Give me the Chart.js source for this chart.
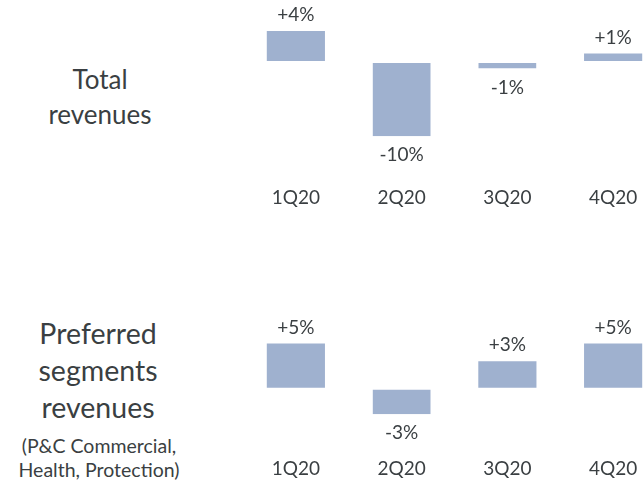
<!DOCTYPE html>
<html>
<head>
<meta charset="utf-8">
<script src="https://cdn.jsdelivr.net/npm/chart.js@4.4.1/dist/chart.umd.min.js"></script>
<style>
  html, body { margin: 0; padding: 0; background: #fff; overflow: hidden; }
  body { width: 644px; height: 486px; position: relative; font-family: Lato, sans-serif; color: #3a3f42; }
  .box { position: absolute; }
  .title { position: absolute; text-align: center; line-height: 1.35; }
</style>
</head>
<body>

<div class="title" style="left:0; width:200px; top:62px; font-size:26px; line-height:35px;">Total<br>revenues</div>

<div class="title" style="left:0; width:196px; top:315px; font-size:28.5px; line-height:37px;">Preferred<br>segments<br>revenues</div>
<div class="title" style="left:0; width:198px; top:434px; font-size:19.5px; line-height:24px;">(P&amp;C Commercial,<br>Health, Protection)</div>

<div class="box" style="left:243px; top:0px; width:423px; height:215px;"><canvas id="totalG"></canvas></div>
<div class="box" style="left:243px; top:300px; width:423px; height:186px;"><canvas id="prefG"></canvas></div>

<script>
'use strict';
const QUARTERS = ['1Q20', '2Q20', '3Q20', '4Q20']
const TOTAL = [4, -10, -1, 1]
const PREFERRED = [5, -3, 3, 5]

const BAR = 'rgb(159, 177, 207)'
const TEXT = '#3a3f42'
const FONT = 'Lato, sans-serif'

// writes "+4%" above rising bars and "-10%" under falling ones
const valueLabels = {
    id: 'valueLabels',
    afterDatasetsDraw(chart) {
        const ctx = chart.ctx
        const values = chart.data.datasets[0].data
        ctx.save()
        ctx.font = '19px ' + FONT
        ctx.fillStyle = TEXT
        ctx.textAlign = 'center'
        ctx.textBaseline = 'middle'
        chart.getDatasetMeta(0).data.forEach(function (bar, i) {
            const v = values[i]
            const txt = (v > 0 ? '+' : '') + v + '%'
            const y = v >= 0 ? bar.y - 16 : bar.y + 19
            ctx.fillText(txt, bar.x, y)
        })
        ctx.restore()
    }
}

function makeChart(id, values, yMin, yMax) {
    const ctx = document.getElementById(id).getContext('2d')
    return new Chart(ctx, {
        type: 'bar',
        data: {
            labels: QUARTERS,
            datasets: [{
                data: values,
                backgroundColor: BAR,
                // white strip on top of falling bars keeps them apart from the zero line
                borderColor: '#fff',
                borderSkipped: false,
                borderWidth: function (c) {
                    return c.raw < 0 ? { top: 2, left: 0, right: 0, bottom: 0 } : 0
                },
                barPercentage: 0.55,
                categoryPercentage: 1
            }]
        },
        options: {
            responsive: true,
            maintainAspectRatio: false,
            animation: false,
            layout: { padding: 0 },
            plugins: {
                legend: { display: false },
                tooltip: { enabled: false }
            },
            scales: {
                x: {
                    grid: { display: false },
                    border: { display: false },
                    ticks: { color: TEXT, font: { family: FONT, size: 19 }, padding: 6 }
                },
                y: {
                    display: false,
                    min: yMin,
                    max: yMax
                }
            }
        },
        plugins: [valueLabels]
    })
}

makeChart('totalG', TOTAL, -14.8, 8.13)
makeChart('prefG', PREFERRED, -6.25, 9.89)
</script>
</body>
</html>
